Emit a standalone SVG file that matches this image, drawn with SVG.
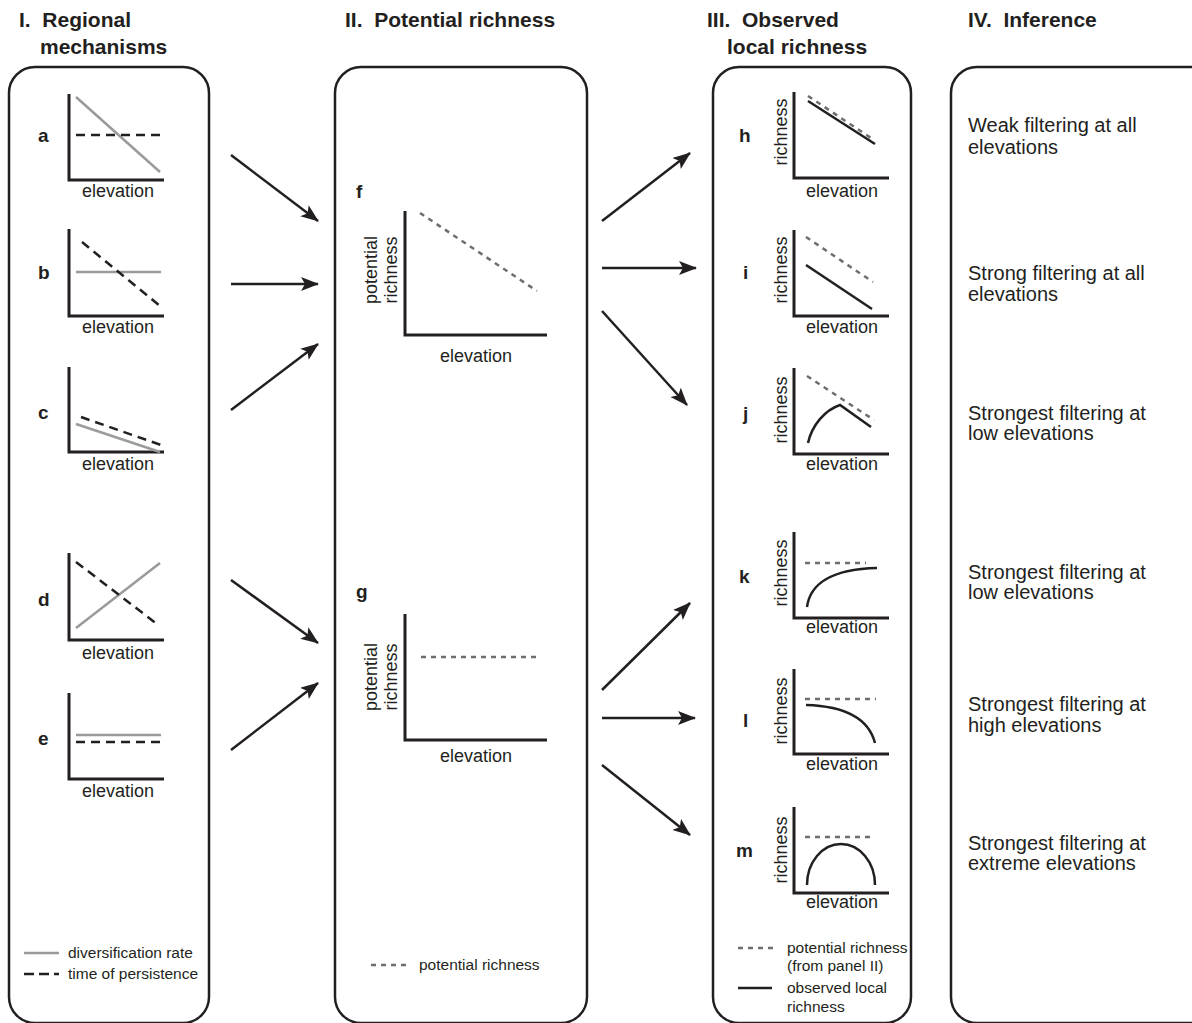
<svg xmlns="http://www.w3.org/2000/svg" width="1192" height="1023" viewBox="0 0 1192 1023">
<style>
text{font-family:"Liberation Sans",Arial,sans-serif;fill:#231f20}
.title{font-size:21px;font-weight:bold}
.lab{font-size:19px;font-weight:bold}
.ax{font-size:18px}
.inf{font-size:20px}
.leg{font-size:15.5px}
.box{fill:none;stroke:#231f20;stroke-width:2.5}
.axis{fill:none;stroke:#231f20;stroke-width:3}
.grey{fill:none;stroke:#9a9a9a;stroke-width:2.5}
.bdash{fill:none;stroke:#231f20;stroke-width:2.5;stroke-dasharray:9,6}
.pdash{fill:none;stroke:#6d6e71;stroke-width:2.5;stroke-dasharray:5,5}
.obs{fill:none;stroke:#231f20;stroke-width:2.5}
.arr{fill:none;stroke:#231f20;stroke-width:2.5;marker-end:url(#ah)}
</style>
<defs>
<marker id="ah" markerUnits="userSpaceOnUse" markerWidth="20" markerHeight="16" refX="17" refY="7" orient="auto">
<path d="M0,0 L18,7 L0,14 L4,7 Z" fill="#231f20"/>
</marker>
</defs>
<rect width="1192" height="1023" fill="#fff"/>

<g id="titles">
<text class="title" x="19" y="27" xml:space="preserve">I.  Regional</text>
<text class="title" x="40" y="54">mechanisms</text>
<text class="title" x="345" y="27" xml:space="preserve">II.  Potential richness</text>
<text class="title" x="707" y="27" xml:space="preserve">III.  Observed</text>
<text class="title" x="727" y="54">local richness</text>
<text class="title" x="968" y="27" xml:space="preserve">IV.  Inference</text>
</g>

<g id="box-I"><rect class="box" x="9" y="67" width="200" height="956" rx="26"/></g>
<g id="box-II"><rect class="box" x="335" y="67" width="252" height="956" rx="26"/></g>
<g id="box-III"><rect class="box" x="713" y="67" width="198" height="956" rx="26"/></g>
<g id="box-IV"><rect class="box" x="951" y="67" width="280" height="956" rx="26"/></g>

<g id="panel-a">
<text class="lab" x="38" y="142">a</text>
<path class="axis" d="M69,94 V180 H164"/>
<path class="grey" d="M76,97 L160,172"/>
<path class="bdash" d="M76,135 H162"/>
<text class="ax" x="118" y="197" text-anchor="middle">elevation</text>
</g>
<g id="panel-b">
<text class="lab" x="38" y="279">b</text>
<path class="axis" d="M69,229 V316 H164"/>
<path class="grey" d="M76,272 H161"/>
<path class="bdash" d="M82,242 L160,306"/>
<text class="ax" x="118" y="333" text-anchor="middle">elevation</text>
</g>
<g id="panel-c">
<text class="lab" x="38" y="419">c</text>
<path class="axis" d="M69,367 V452 H164"/>
<path class="grey" d="M76,424 L160,452"/>
<path class="bdash" d="M81,417 L161,445"/>
<text class="ax" x="118" y="470" text-anchor="middle">elevation</text>
</g>
<g id="panel-d">
<text class="lab" x="38" y="606">d</text>
<path class="axis" d="M69,553 V640 H164"/>
<path class="grey" d="M76,628 L160,563"/>
<path class="bdash" d="M76,562 L157,624"/>
<text class="ax" x="118" y="659" text-anchor="middle">elevation</text>
</g>
<g id="panel-e">
<text class="lab" x="38" y="745">e</text>
<path class="axis" d="M69,693 V779 H164"/>
<path class="grey" d="M76,735 H161"/>
<path class="bdash" d="M76,742 H161"/>
<text class="ax" x="118" y="797" text-anchor="middle">elevation</text>
</g>
<g id="legend-I">
<path class="grey" d="M24,953 H59"/>
<text class="leg" x="68" y="958">diversification rate</text>
<path class="bdash" d="M24,974 H59" style="stroke-dasharray:10,5"/>
<text class="leg" x="68" y="979">time of persistence</text>
</g>

<g id="panel-f">
<text class="lab" x="356" y="198">f</text>
<path class="axis" d="M405,211 V335 H547"/>
<path class="pdash" d="M420,213 L537,291"/>
<text class="ax" transform="translate(377,270) rotate(-90)" text-anchor="middle">potential</text>
<text class="ax" transform="translate(397,270) rotate(-90)" text-anchor="middle">richness</text>
<text class="ax" x="476" y="362" text-anchor="middle">elevation</text>
</g>
<g id="panel-g">
<text class="lab" x="356" y="598">g</text>
<path class="axis" d="M405,614 V740 H547"/>
<path class="pdash" d="M421,657 H537"/>
<text class="ax" transform="translate(377,677) rotate(-90)" text-anchor="middle">potential</text>
<text class="ax" transform="translate(397,677) rotate(-90)" text-anchor="middle">richness</text>
<text class="ax" x="476" y="762" text-anchor="middle">elevation</text>
</g>
<g id="legend-II">
<path class="pdash" d="M371,965 H406"/>
<text class="leg" x="419" y="970">potential richness</text>
</g>

<g id="panel-h">
<text class="lab" x="739" y="142">h</text>
<path class="axis" d="M794,92 V178 H889"/>
<path class="pdash" d="M808,96 L874,140"/>
<path class="obs" d="M808,101 L875,144"/>
<text class="ax" transform="translate(787,132) rotate(-90)" text-anchor="middle">richness</text>
<text class="ax" x="842" y="197" text-anchor="middle">elevation</text>
</g>
<g id="panel-i">
<text class="lab" x="743" y="279">i</text>
<path class="axis" d="M794,230 V316 H889"/>
<path class="pdash" d="M806,237 L873,282"/>
<path class="obs" d="M806,265 L872,309"/>
<text class="ax" transform="translate(787,270) rotate(-90)" text-anchor="middle">richness</text>
<text class="ax" x="842" y="333" text-anchor="middle">elevation</text>
</g>
<g id="panel-j">
<text class="lab" x="743" y="420">j</text>
<path class="axis" d="M794,368 V454 H889"/>
<path class="pdash" d="M807,376 L874,420"/>
<path class="obs" d="M808,443 C812,425 825,410 840,405 L871,427"/>
<text class="ax" transform="translate(787,410) rotate(-90)" text-anchor="middle">richness</text>
<text class="ax" x="842" y="470" text-anchor="middle">elevation</text>
</g>
<g id="panel-k">
<text class="lab" x="739" y="583">k</text>
<path class="axis" d="M794,532 V618 H889"/>
<path class="pdash" d="M805,563 H866"/>
<path class="obs" d="M807,607 C810,585 830,569 877,568"/>
<text class="ax" transform="translate(787,573) rotate(-90)" text-anchor="middle">richness</text>
<text class="ax" x="842" y="633" text-anchor="middle">elevation</text>
</g>
<g id="panel-l">
<text class="lab" x="743" y="727">l</text>
<path class="axis" d="M794,669 V754 H889"/>
<path class="pdash" d="M805,699 H876"/>
<path class="obs" d="M806,705 C840,706 868,716 875,743"/>
<text class="ax" transform="translate(787,711) rotate(-90)" text-anchor="middle">richness</text>
<text class="ax" x="842" y="770" text-anchor="middle">elevation</text>
</g>
<g id="panel-m">
<text class="lab" x="736" y="857">m</text>
<path class="axis" d="M794,807 V893 H889"/>
<path class="pdash" d="M805,837 H874"/>
<path class="obs" d="M807,885 A34,41 0 0 1 875,885"/>
<text class="ax" transform="translate(787,850) rotate(-90)" text-anchor="middle">richness</text>
<text class="ax" x="842" y="908" text-anchor="middle">elevation</text>
</g>
<g id="legend-III">
<path class="pdash" d="M738,948 H773"/>
<text class="leg" x="787" y="953">potential richness</text>
<text class="leg" x="787" y="971">(from panel II)</text>
<path class="obs" d="M738,988 H772"/>
<text class="leg" x="787" y="993">observed local</text>
<text class="leg" x="787" y="1012">richness</text>
</g>

<g id="inference">
<text class="inf" x="968" y="132">Weak filtering at all</text>
<text class="inf" x="968" y="154">elevations</text>
<text class="inf" x="968" y="280">Strong filtering at all</text>
<text class="inf" x="968" y="301">elevations</text>
<text class="inf" x="968" y="420">Strongest filtering at</text>
<text class="inf" x="968" y="440">low elevations</text>
<text class="inf" x="968" y="579">Strongest filtering at</text>
<text class="inf" x="968" y="599">low elevations</text>
<text class="inf" x="968" y="711">Strongest filtering at</text>
<text class="inf" x="968" y="732">high elevations</text>
<text class="inf" x="968" y="850">Strongest filtering at</text>
<text class="inf" x="968" y="870">extreme elevations</text>
</g>

<g id="connectors">
<path class="arr" d="M231,155 L318,221"/>
<path class="arr" d="M231,284 L318,284"/>
<path class="arr" d="M231,410 L318,344"/>
<path class="arr" d="M231,580 L318,643"/>
<path class="arr" d="M231,750 L318,683"/>
<path class="arr" d="M602,221 L690,153"/>
<path class="arr" d="M602,268 L696,268"/>
<path class="arr" d="M602,311 L687,405"/>
<path class="arr" d="M602,690 L690,603"/>
<path class="arr" d="M602,718 L695,718"/>
<path class="arr" d="M602,765 L690,835"/>
</g>
</svg>
